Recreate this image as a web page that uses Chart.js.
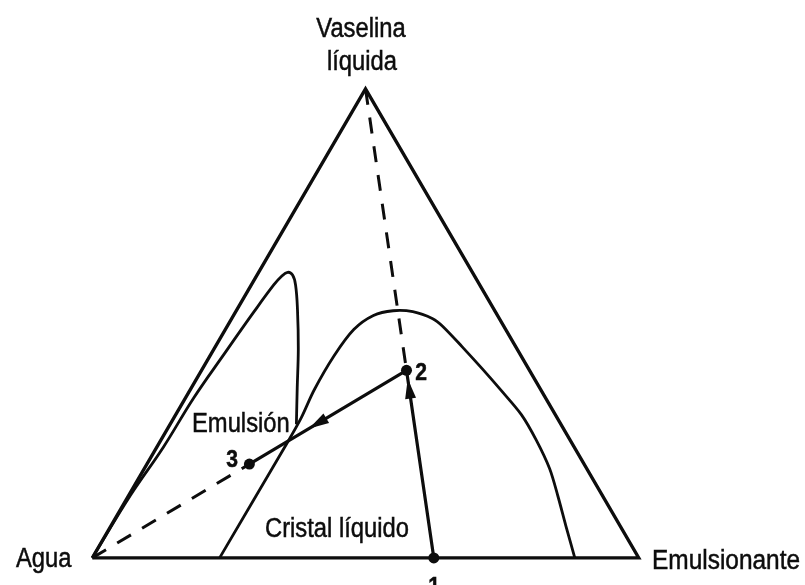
<!DOCTYPE html>
<html><head><meta charset="utf-8">
<script src="https://cdn.jsdelivr.net/npm/chart.js@4/dist/chart.umd.min.js"></script>
<style>html,body{margin:0;padding:0;background:#fff}canvas{display:block}</style>
</head>
<body>
<canvas id="c" width="805" height="585"></canvas>
<script>
// Ternary composition: E = % emulsionante, V = % vaselina líquida, agua = 100 - E - V
const cornerNames = ['Agua', 'Emulsionante', 'Vaselina líquida'];
const cornerE = [0, 100, 0];
const cornerV = [0, 0, 100];

// Emulsion region boundary (from Agua corner up and back down)
const emulsionE = [0, 0.3, 1.2, 1.5, 2.4, 3.35, 4.1, 4.6, 5.3, 6.5, 8.1, 11.1, 15.4, 19.4, 23.1];
const emulsionV = [0, 13.2, 23.6, 34.1, 43.5, 52.5, 58.2, 60.0, 60.9, 60.3, 58.2, 52.9, 44.6, 36.2, 28.5];

// Liquid crystal region boundary
const crystalE = [23.3, 23.4, 23.3, 22.7, 22.7, 23.5, 25.6, 28.7, 32.4, 36.8, 39.4, 45.2, 51.1, 57.1, 63.3, 68.7, 74.2, 78.6, 83.2, 88.3];
const crystalV = [0, 25.1, 29.9, 35.8, 43.1, 48.7, 51.7, 52.7, 52.5, 51.0, 49.4, 45.0, 40.4, 35.6, 30.5, 25.1, 19.0, 13.2, 6.9, 0];

// Samples 1 -> 2 (add vaselina) -> 3 (dilute with agua)
const sampleNames = ['1', '2', '3'];
const sampleE = [62.5, 37.5, 18.75];
const sampleV = [0, 40, 20];

const toXY = (e, v) => ({ x: e + v / 2, y: v });
const pts = (E, V) => E.map((e, i) => toXY(e, V[i]));

const ink = '#0d0d0d';
const corners = pts(cornerE, cornerV);
const samples = pts(sampleE, sampleV);

const arrowPlugin = {
  id: 'arrows',
  afterDatasetsDraw(chart) {
    const { ctx, scales: { x, y } } = chart;
    const arrows = [[0, 1, 0.955], [1, 2, 0.62]];
    ctx.save();
    ctx.fillStyle = ink;
    arrows.forEach(([a, b, t]) => {
      const ax = x.getPixelForValue(samples[a].x), ay = y.getPixelForValue(samples[a].y);
      const bx = x.getPixelForValue(samples[b].x), by = y.getPixelForValue(samples[b].y);
      const tx = ax + (bx - ax) * t, ty = ay + (by - ay) * t;
      const len = Math.hypot(bx - ax, by - ay);
      const ux = (bx - ax) / len, uy = (by - ay) / len;
      const L = 20, W = 5.5;
      ctx.beginPath();
      ctx.moveTo(tx, ty);
      ctx.lineTo(tx - ux * L - uy * W, ty - uy * L + ux * W);
      ctx.lineTo(tx - ux * L + uy * W, ty - uy * L - ux * W);
      ctx.closePath();
      ctx.fill();
    });
    ctx.restore();
  }
};

const FONT = '27px "Liberation Sans", Arial, sans-serif';
const DFONT = 'bold 24px "Liberation Sans", Arial, sans-serif';
const textPlugin = {
  id: 'texts',
  afterDraw(chart) {
    const ctx = chart.ctx;
    const labels = [
      { t: 'Vaselina', x: 361, y: 37, a: 'center', f: FONT },
      { t: 'líquida', x: 362, y: 70, a: 'center', f: FONT },
      { t: cornerNames[0], x: 16, y: 567, a: 'left', f: FONT },
      { t: cornerNames[1], x: 652, y: 569, a: 'left', f: FONT, s: 0.905 },
      { t: 'Cristal líquido', x: 265, y: 537, a: 'left', f: FONT },
      { t: 'Emulsión', x: 192, y: 432, a: 'left', f: FONT },
      { t: sampleNames[0], x: 434, y: 594, a: 'center', f: DFONT },
      { t: sampleNames[1], x: 421, y: 380, a: 'center', f: DFONT },
      { t: sampleNames[2], x: 232, y: 467, a: 'center', f: DFONT }
    ];
    ctx.save();
    ctx.fillStyle = ink;
    ctx.strokeStyle = ink;
    ctx.lineWidth = 0.5;
    ctx.textBaseline = 'alphabetic';
    labels.forEach(l => {
      ctx.save();
      ctx.font = l.f; ctx.textAlign = l.a;
      ctx.translate(l.x, l.y);
      ctx.scale(l.s || 0.88, 1);
      ctx.fillText(l.t, 0, 0);
      ctx.strokeText(l.t, 0, 0);
      ctx.restore();
    });
    ctx.restore();
  }
};

const lineDs = (data, extra) => Object.assign({
  data, showLine: true, borderColor: ink, borderWidth: 2.8, pointRadius: 0,
  fill: false, tension: 0, borderCapStyle: 'butt', borderJoinStyle: 'round'
}, extra);

new Chart(document.getElementById('c'), {
  type: 'scatter',
  data: {
    datasets: [
      lineDs([corners[0], corners[1], corners[2], corners[0]], { borderWidth: 3.3, borderJoinStyle: 'miter' }),
      lineDs(pts(emulsionE, emulsionV), { tension: 0.4 }),
      lineDs(pts(crystalE, crystalV), { tension: 0.3 }),
      lineDs([corners[2], samples[1]], { borderDash: [16, 13], borderWidth: 3 }),
      lineDs([corners[0], samples[2]], { borderDash: [16, 13], borderWidth: 3 }),
      lineDs([samples[0], samples[1], samples[2]], { borderWidth: 3.2 }),
      { data: samples, showLine: false, pointRadius: 5.5, pointBackgroundColor: ink, pointBorderColor: ink, pointBorderWidth: 0 }
    ]
  },
  options: {
    responsive: false,
    animation: false,
    layout: { padding: 0 },
    plugins: { legend: { display: false }, tooltip: { enabled: false }, title: { display: false } },
    scales: {
      x: { type: 'linear', display: false, min: -15.884, max: 129.42 },
      y: { type: 'linear', display: false, min: -4.603, max: 117.78 }
    }
  },
  plugins: [arrowPlugin, textPlugin]
});
</script>
</body></html>
